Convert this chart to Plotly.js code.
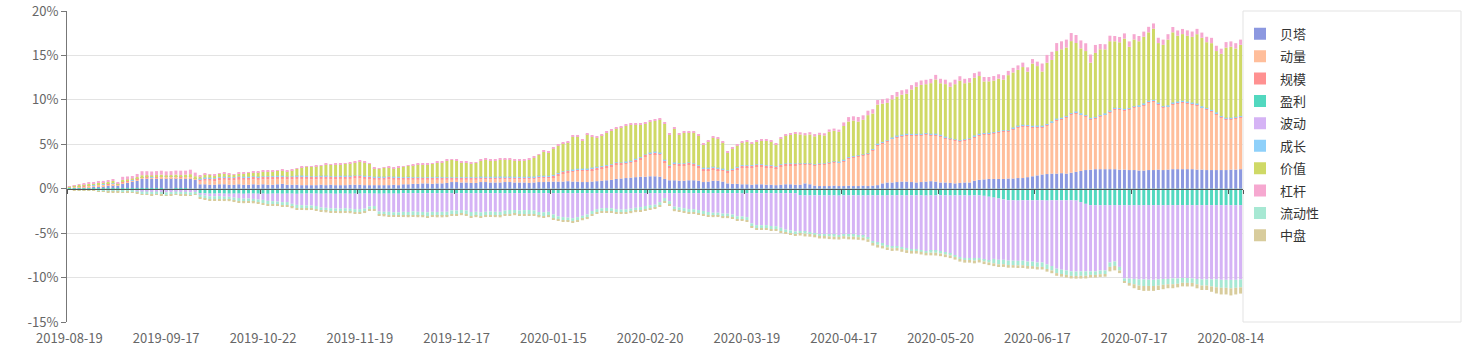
<!DOCTYPE html>
<html>
<head>
<meta charset="utf-8">
<script src="https://cdn.plot.ly/plotly-3.0.1.min.js"></script>
<style>
html,body{margin:0;padding:0;background:#fff;}
#chart{width:1462px;height:357px;}
</style>
</head>
<body>
<div id="chart"></div>
<script>
// ---- categories: trading days starting 2019-08-19 (weekends and exchange holidays skipped)
const startDate = '2019-08-19';
const holidays = ['2019-09-13','2019-10-01','2019-10-02','2019-10-03','2019-10-04','2019-10-07',
  '2020-01-01','2020-01-24','2020-01-27','2020-01-28','2020-01-29','2020-01-30','2020-01-31',
  '2020-04-06','2020-05-01','2020-05-04','2020-05-05','2020-06-25','2020-06-26'];
const labelEvery = 20;

const factorNames = ['贝塔','动量','规模','盈利','波动','成长','价值','杠杆','流动性','中盘'];
const factorColors = ['#8c98e0','#ffbe9b','#ff9191','#52d8bf','#d5b3f5','#8ed0fa','#cfd966','#f6a8d0','#a7e8d3','#d8cc9c'];

// ---- series values (%)
const beta = [
0.05,0.08,0.1,0.15,0.18,0.2,0.25,0.3,0.35,0.4,
0.35,0.6,0.7,0.8,0.9,1.1,1.15,1.1,1.15,1.2,1.15,1.2,1.2,1.15,1.2,1.2,1.0,
0.5,0.5,0.45,0.45,0.5,0.5,0.45,0.45,0.5,0.45,0.45,0.5,0.45,0.5,
0.45,0.45,0.5,0.55,0.45,0.45,0.45,0.4,0.4,0.4,0.4,0.45,0.4,0.45,0.4,0.4,0.4,0.45,0.45,0.45,0.4,0.4,0.4,0.4,0.4,0.4,0.45,0.4,
0.5,0.5,0.55,0.55,0.6,0.6,0.55,0.6,0.6,0.65,0.75,0.75,0.7,0.7,0.65,0.65,0.75,0.75,0.7,0.7,0.7,0.75,0.75,0.7,0.7,0.7,0.65,0.7,0.75,0.75,0.8,
0.8,0.8,0.8,0.85,0.8,0.8,0.75,0.75,0.8,0.85,0.9,0.95,1.0,1.1,1.15,1.2,1.25,1.3,1.35,1.35,1.4,1.4,1.35,
1.1,0.95,0.95,0.9,0.9,0.95,0.95,0.9,0.75,0.8,0.9,0.9,0.8,0.6,0.55,0.55,0.5,0.5,0.45,0.5,0.5,0.45,0.45,0.4,0.45,0.5,0.5,0.45,
0.45,0.6,0.5,0.35,0.3,0.3,0.3,0.35,0.3,0.3,0.35,0.3,0.3,0.35,0.3,0.35,0.4,
0.6,0.7,0.7,0.75,0.8,0.8,0.75,0.7,0.75,0.8,0.85,0.8,0.7,0.7,0.65,0.6,0.65,0.7,0.7,
0.9,1.0,1.05,1.1,1.1,1.1,1.1,1.15,1.15,1.2,1.2,1.3,1.4,1.5,
1.6,1.65,1.7,1.7,1.75,1.7,1.8,1.9,2.0,2.1,
2.15,2.2,2.2,2.2,2.2,2.2,2.15,2.15,2.1,2.1,2.05,2.05,2.1,2.1,2.15,2.1,2.15,2.2,2.2,2.2,2.2,2.2,2.15,2.15,2.1,2.1,2.1,2.1,2.1,2.15,2.15,2.2];

const momentum = [
0.1,0.12,0.15,0.15,0.17,0.17,0.17,0.17,0.17,0.17,
0.12,0.15,0.16,0.15,0.17,0.15,0.14,0.16,0.15,0.15,0.17,0.15,0.16,0.15,0.15,0.16,0.14,
0.3,0.4,0.45,0.4,0.45,0.5,0.5,0.5,0.5,0.55,0.55,0.55,0.55,0.55,
0.6,0.6,0.6,0.55,0.6,0.6,0.65,0.7,0.7,0.65,0.65,0.65,0.7,0.6,0.65,0.7,0.7,0.65,0.7,0.7,0.7,0.65,0.6,0.6,0.6,0.65,0.55,0.6,
0.5,0.5,0.45,0.45,0.4,0.4,0.45,0.4,0.4,0.35,0.25,0.25,0.3,0.3,0.35,0.35,
0.3,0.3,0.35,0.35,0.35,0.3,0.3,0.35,0.35,0.35,0.4,0.35,0.4,0.4,0.35,
0.5,0.7,0.9,0.95,1.1,1.2,1.25,1.25,1.3,1.35,
1.4,1.45,1.5,1.6,1.55,1.6,1.65,1.8,1.95,2.25,
2.4,2.5,2.45,1.9,1.45,1.75,1.7,1.7,1.75,1.65,
1.5,1.35,1.3,1.3,1.2,1.2,1.2,1.45,1.65,1.9,
1.9,1.95,2.0,2.0,1.95,1.95,1.9,2.05,2.1,2.1,
2.15,
2.25,2.1,2.2,2.25,2.4,2.4,2.5,2.55,2.6,2.8,
3.05,3.2,3.3,3.35,3.5,3.95,4.5,4.5,4.6,4.9,
5.05,5.1,5.2,5.25,5.3,5.25,5.3,5.15,5.2,5.2,
5.0,4.85,4.8,4.65,4.7,4.8,4.9,5.0,5.05,5.0,
5.1,5.2,5.3,5.25,5.55,5.7,5.8,5.7,5.5,5.4,
5.3,5.45,5.7,6.0,6.05,6.3,6.5,6.6,6.3,6.0,
5.65,5.7,5.9,6.1,6.4,6.7,6.75,6.65,6.8,7.0,
7.15,7.35,7.6,7.7,7.35,7.0,7.05,7.3,7.4,7.5,
7.4,7.3,7.25,6.95,6.8,6.6,6.3,5.9,5.7,5.65,
5.75,5.8];

const size = [
0.02,0.03,0.03,0.03,0.04,0.03,0.03,0.04,0.03,0.03,0.03,0.04,0.03,0.03,0.04,0.03,0.03,0.03,0.04,0.03,0.03,0.03,0.04,0.03,0.03,0.03,0.03,
0.28,0.3,0.3,0.29,0.3,0.31,0.3,0.3,0.32,0.3,0.3,0.31,0.3,0.3,0.3,0.32,0.3,0.3,0.29,0.3,
0.3,0.31,0.3,0.3,0.32,0.3,0.3,0.3,0.31,0.3,0.3,0.3,0.29,0.3,0.3,0.31,0.3,0.3,0.3,0.29,0.3,0.3,
0.25,0.26,0.25,0.25,0.24,0.25,0.25,0.26,0.25,0.25,0.24,0.25,0.25,0.26,0.25,0.25,0.25,0.24,0.25,0.25,
0.26,0.25,0.25,0.25,0.24,0.25,0.25,0.26,0.25,0.25,0.25,
0.2,0.21,0.2,0.2,0.2,0.19,0.2,0.2,0.21,0.2,0.2,0.2,0.2,0.21,0.2,0.2,0.19,0.2,0.2,0.2,
0.21,0.2,0.2,0.2,0.2,0.19,0.2,0.2,0.21,0.2,0.2,0.2,0.2,0.2,0.21,0.2,0.2,0.19,0.2,0.2,
0.2,0.21,0.2,0.2,0.2,0.2,0.19,0.2,0.2,0.21,0.2,
0.1,0.11,0.1,0.1,0.09,0.1,0.1,0.11,0.1,0.1,0.1,0.1,0.09,0.1,0.11,0.1,0.1,0.1,0.1,0.09,
0.1,0.11,0.1,0.1,0.1,0.1,0.09,0.1,0.11,0.1,0.1,0.1,0.1,0.09,0.1,0.1,0.11,0.1,0.1,0.1,
0.09,0.1,0.11,0.1,0.1,0.1,0.1,0.09,0.1,0.11,0.1,0.1,0.1,0.1,0.09,0.1,0.11,0.1,0.1,0.1,
0.1,0.09,0.1,0.1,0.11,0.1,0.1,0.1,0.09,0.1,0.1,0.11,0.1,0.1,0.1,0.1,0.09,0.1,0.11,0.1,
0.1,0.1,0.1,0.09,0.1,0.1,0.11,0.1,0.1,0.1,0.1,0.1];

const profit = [
-0.05,-0.05,-0.08,-0.08,-0.1,-0.1,-0.12,-0.12,-0.15,-0.15,
-0.15,-0.18,-0.18,-0.2,-0.2,-0.22,-0.22,-0.22,-0.22,-0.22,-0.25,-0.25,-0.22,-0.22,-0.22,-0.25,-0.25,
-0.5,-0.52,-0.55,-0.55,-0.53,-0.55,-0.56,-0.55,-0.55,-0.57,
-0.55,-0.55,-0.56,-0.55,-0.57,-0.55,-0.55,-0.56,-0.55,-0.55,
-0.57,-0.55,-0.55,-0.54,-0.55,-0.56,-0.55,-0.55,-0.57,-0.55,
-0.55,-0.56,-0.55,-0.55,-0.54,-0.55,-0.55,-0.56,-0.55,-0.55,
-0.55,-0.56,
-0.5,-0.52,-0.5,-0.5,-0.51,-0.5,-0.5,-0.52,-0.5,-0.5,
-0.5,-0.51,-0.5,-0.5,-0.52,-0.5,-0.5,-0.5,-0.51,-0.5,
-0.5,-0.52,-0.5,-0.5,-0.5,-0.51,-0.5,-0.5,-0.52,-0.5,
-0.5,-0.5,-0.51,-0.5,-0.5,-0.52,-0.5,-0.5,-0.5,-0.51,
-0.5,-0.5,-0.52,-0.5,-0.5,-0.5,-0.51,-0.5,-0.5,-0.52,
-0.5,-0.5,-0.5,-0.51,-0.5,-0.5,-0.52,-0.5,-0.5,-0.5,
-0.51,-0.5,-0.5,-0.52,-0.5,-0.5,-0.5,-0.51,-0.5,-0.5,
-0.52,-0.5,-0.5,-0.5,-0.51,-0.5,-0.5,-0.52,-0.5,-0.5,
-0.5,-0.51,
-0.72,-0.75,-0.75,-0.74,-0.75,-0.76,-0.75,-0.75,-0.77,-0.75,
-0.75,-0.74,-0.75,-0.76,-0.75,-0.75,-0.75,-0.77,-0.75,-0.75,
-0.74,-0.75,-0.76,-0.75,-0.75,-0.75,-0.77,-0.75,-0.75,-0.74,
-0.75,-0.76,-0.75,-0.75,-0.75,-0.77,-0.75,-0.75,-0.8,-0.9,
-1.0,-1.1,-1.2,-1.3,-1.3,-1.32,-1.3,-1.3,-1.31,-1.3,
-1.3,-1.32,-1.3,-1.3,-1.31,-1.3,-1.3,-1.32,-1.5,-1.7,
-1.85,-1.85,-1.86,-1.85,-1.85,-1.84,-1.85,-1.85,-1.86,-1.85,
-1.85,-1.85,-1.84,-1.85,-1.85,-1.86,-1.85,-1.85,-1.85,-1.84,
-1.85,-1.85,-1.86,-1.85,-1.85,-1.85,-1.84,-1.85,-1.85,-1.86,
-1.85,-1.85];

const volatility = [
-0.02,-0.02,-0.03,-0.03,-0.04,-0.04,-0.06,-0.08,-0.1,-0.1,
-0.08,-0.07,-0.05,-0.05,-0.06,-0.1,-0.1,-0.13,-0.1,-0.13,-0.15,-0.12,-0.1,-0.13,-0.13,-0.15,-0.1,
-0.15,-0.25,-0.3,-0.3,-0.3,-0.35,-0.35,-0.45,-0.5,-0.55,-0.55,-0.6,-0.65,-0.7,
-0.8,-0.85,-0.9,-0.95,-0.95,-1.15,-1.25,-1.3,-1.35,-1.35,
-1.4,-1.55,-1.6,-1.65,-1.65,-1.7,-1.65,-1.7,-1.75,-1.75,
-1.7,-1.45,-1.4,-2.0,-2.05,-2.05,-2.1,-2.1,
-2.1,-2.1,-2.05,-2.1,-2.1,-2.15,-2.1,-2.1,-2.1,-2.1,
-1.95,-1.95,-1.9,-1.95,-2.1,-2.1,-2.15,-2.1,-2.05,-2.1,
-2.1,-1.95,-1.9,-1.9,-1.95,-1.9,-1.9,-1.95,-2.1,-2.15,
-2.1,-2.4,
-2.6,-2.7,-2.75,-2.8,-2.7,-2.55,-2.4,-2.0,-1.8,-1.7,
-1.65,-1.7,-1.8,-1.85,-1.8,-1.75,-1.65,-1.55,-1.45,-1.35,
-1.3,-1.0,-0.55,-0.9,-1.5,-1.6,-1.7,-1.8,-1.8,-1.9,
-2.0,-2.1,-2.2,-2.2,-2.3,-2.3,-2.4,-2.6,-2.6,-2.7,
-3.4,-3.6,-3.6,-3.6,-3.7,-3.7,-3.9,-4.1,-4.2,-4.3,
-4.05,-4.1,-4.15,-4.25,-4.35,-4.35,-4.4,-4.45,-4.45,-4.4,
-4.45,-4.45,-4.5,-4.55,-4.75,-5.15,-5.35,-5.45,-5.65,-5.75,
-5.75,-5.85,-5.95,-6.05,-6.05,-6.15,-6.25,-6.25,-6.25,-6.35,
-6.45,-6.55,-6.75,-6.95,-7.05,-7.05,-7.15,-7.05,-7.2,-7.2,
-6.9,-6.9,-6.8,-6.8,-6.8,-6.8,-6.8,-6.9,-6.9,-7.0,
-7.0,-7.2,-7.4,-7.7,-7.8,-7.9,-8.0,-8.0,-7.8,-7.6,
-7.45,-7.45,-7.35,-7.35,-6.45,-6.35,-6.95,-8.25,-8.25,-8.3,
-8.35,-8.35,-8.4,-8.4,-8.35,-8.3,-8.3,-8.25,-8.25,-8.2,
-8.2,-8.25,-8.3,-8.35,-8.35,-8.35,-8.35,-8.4,-8.4,-8.4,
-8.4,-8.35];

const growth = [
0.01,0.01,0.02,0.02,0.01,0.02,0.02,0.02,0.03,0.02,0.02,0.03,0.02,0.03,0.03,0.02,0.03,0.03,0.02,0.03,0.03,0.03,0.02,0.03,0.03,0.03,0.02,
0.04,0.05,0.04,0.05,0.05,0.04,0.05,0.05,0.06,0.05,0.05,0.04,0.05,0.05,0.06,0.05,0.05,0.05,0.04,0.05,
0.05,0.06,0.05,0.05,0.05,0.04,0.05,0.06,0.05,0.05,0.05,0.05,0.04,0.05,0.05,0.06,0.05,0.05,0.04,0.05,0.05,0.05,
0.05,0.06,0.05,0.05,0.04,0.05,0.05,0.06,0.05,0.05,
0.05,0.04,0.05,0.05,0.06,0.05,0.05,0.05,0.04,0.05,
0.05,0.06,0.05,0.05,0.05,0.04,0.05,0.06,0.05,0.05,
0.05,0.05,0.06,0.06,0.05,0.06,0.06,0.05,0.06,0.06,
0.06,0.05,0.06,0.06,0.06,0.05,0.06,0.06,0.07,0.06,
0.06,0.06,0.07,0.06,0.06,0.05,0.06,0.06,0.06,0.05,
0.06,0.06,0.05,0.06,0.06,0.05,0.05,0.06,0.05,0.05,
0.06,0.05,0.05,0.05,0.06,0.05,0.05,0.05,0.06,0.05,
0.05,0.05,
0.05,0.06,0.05,0.05,0.06,0.05,0.06,0.06,0.05,0.06,
0.06,0.07,0.06,0.06,0.07,0.06,0.07,0.07,0.06,0.07,
0.07,0.07,0.08,0.07,0.07,0.08,0.07,0.08,0.08,0.07,
0.07,0.07,0.06,0.07,0.07,0.07,0.08,0.08,0.07,0.08,
0.08,0.08,0.07,0.08,0.08,0.08,0.09,0.08,0.08,0.09,
0.09,0.08,0.09,0.09,0.1,0.09,0.1,0.1,0.09,0.09,
0.08,0.09,0.09,0.08,0.09,0.09,0.08,0.09,0.08,0.09,
0.09,0.09,0.1,0.1,0.09,0.09,0.09,0.1,0.1,0.1,
0.1,0.09,0.09,0.09,0.09,0.08,0.08,0.08,0.08,0.08,
0.08,0.09];

const value = [
0.07,0.09,0.12,0.17,0.15,0.18,0.22,0.2,0.2,0.25,
0.07,0.17,0.12,0.12,0.17,0.22,0.17,0.17,0.17,0.17,0.12,0.12,0.17,0.17,0.17,0.22,0.22,
0.27,0.37,0.32,0.27,0.37,0.37,0.32,0.27,0.32,0.37,0.42,0.42,0.52,0.52,
0.52,0.57,0.57,0.62,0.57,0.67,0.77,0.97,1.02,1.07,
1.12,1.12,1.27,1.27,1.32,1.32,1.37,1.42,1.47,1.57,
1.52,1.37,0.97,0.87,1.02,1.02,0.97,1.02,
1.15,1.25,1.35,1.45,1.45,1.45,1.5,1.6,1.65,1.85,1.95,1.85,1.7,1.6,1.5,1.6,
1.8,1.95,1.85,1.8,1.9,1.95,1.95,1.8,1.85,1.85,1.9,2.1,2.35,2.7,2.6,
2.98,3.08,3.18,3.18,3.68,3.68,3.18,3.88,3.48,3.28,
3.48,3.63,3.78,3.83,3.98,4.03,4.08,3.88,3.68,3.48,
3.48,3.48,3.73,4.03,3.43,3.78,3.23,3.43,3.38,3.48,
3.28,2.58,2.98,3.28,3.28,2.98,1.98,2.28,2.43,2.58,
2.63,2.43,2.58,2.68,2.73,2.68,2.48,2.88,3.18,3.28,
3.33,
3.25,3.15,3.25,3.15,3.2,3.15,3.45,3.45,3.35,3.8,
4.0,4.0,3.8,3.9,4.3,4.0,4.4,4.3,4.2,4.3,
4.4,4.5,4.5,5.0,5.3,5.5,5.5,5.7,6.1,5.8,
5.9,5.8,6.2,6.7,6.3,6.3,6.5,6.5,5.8,5.8,
5.8,5.9,5.7,6.2,6.2,6.3,6.5,6.0,7.0,6.7,
6.1,6.9,6.9,7.6,7.7,7.7,8.1,7.7,7.3,7.2,
6.2,7.2,7.4,7.2,7.8,7.5,7.4,7.9,6.9,7.5,
7.2,7.5,7.7,8.0,6.7,6.9,7.4,7.9,7.4,7.5,
7.4,7.4,7.8,7.7,7.4,7.5,6.9,7.0,7.9,8.0,
7.7,8.0];

const leverage = [
0.05,0.08,0.1,0.1,0.12,0.12,0.13,0.15,0.15,0.15,
0.15,0.35,0.35,0.3,0.35,0.45,0.45,0.45,0.45,0.45,0.45,0.45,0.45,0.5,0.45,0.5,0.4,
0.07,0.08,0.08,0.09,0.08,0.08,0.07,0.08,0.08,0.09,0.08,0.08,0.07,0.08,0.09,0.08,0.08,0.08,0.07,0.08,
0.09,0.08,0.08,0.07,0.08,0.08,0.09,0.08,0.08,0.08,0.07,0.08,0.09,0.08,0.08,0.08,0.07,0.08,0.08,0.09,0.08,0.08,
0.1,0.09,0.1,0.11,0.1,0.1,0.09,0.1,0.1,0.11,0.1,0.1,0.09,0.1,0.11,0.1,0.1,0.1,0.09,0.1,
0.11,0.1,0.1,0.09,0.1,0.1,0.11,0.1,0.1,0.1,0.1,
0.12,0.11,0.12,0.13,0.12,0.12,0.11,0.12,0.12,0.13,0.12,0.12,0.11,0.12,0.13,0.12,0.12,0.12,0.11,0.12,
0.13,0.12,0.12,0.11,0.12,0.12,0.13,0.12,0.12,0.12,0.11,0.12,0.13,0.12,0.12,0.12,0.11,0.12,0.12,0.13,
0.12,0.12,0.11,0.12,0.13,0.12,0.12,0.12,0.11,0.12,0.12,
0.25,0.24,0.26,0.25,0.25,0.24,0.26,0.25,0.25,0.4,
0.5,0.48,0.52,0.5,0.5,0.49,0.51,0.5,0.5,0.48,0.52,0.5,0.5,0.49,0.51,0.5,0.5,0.48,0.52,0.5,
0.5,0.49,0.51,0.5,0.5,0.48,0.52,0.5,0.5,0.49,0.51,0.5,0.5,0.48,0.52,0.5,0.5,0.49,0.51,0.5,
0.9,0.88,0.92,0.9,0.9,0.89,0.91,0.9,0.9,0.88,0.92,0.9,
0.6,0.58,0.62,0.6,0.6,0.59,0.61,0.6,0.6,0.58,0.62,0.6,0.6,0.59,0.61,0.6,0.6,0.58,0.62,0.6,
0.6,0.59,0.61,0.6,0.6,0.58,0.62,0.6,0.6,0.59];

const liquidity = [
-0.03,-0.05,-0.06,-0.06,-0.07,-0.07,-0.08,-0.1,-0.1,-0.1,
-0.12,-0.15,-0.12,-0.15,-0.18,-0.3,-0.3,-0.32,-0.3,-0.32,-0.32,-0.3,-0.3,-0.32,-0.32,-0.32,-0.28,
-0.33,-0.35,-0.35,-0.36,-0.35,-0.34,-0.35,-0.35,-0.36,-0.35,-0.35,-0.34,-0.35,-0.36,-0.35,-0.35,-0.35,-0.34,-0.36,-0.35,
-0.35,-0.35,-0.36,-0.35,-0.34,-0.35,-0.35,-0.36,-0.35,-0.35,-0.34,-0.35,-0.35,-0.36,-0.35,-0.35,-0.35,-0.34,-0.35,-0.36,-0.35,-0.35,
-0.45,-0.44,-0.45,-0.46,-0.45,-0.45,-0.44,-0.45,-0.46,-0.45,-0.45,-0.45,-0.44,-0.45,-0.46,-0.45,-0.45,-0.45,-0.44,-0.45,
-0.46,-0.45,-0.45,-0.44,-0.45,-0.45,-0.46,-0.45,-0.45,-0.44,-0.45,-0.45,
-0.35,-0.36,-0.35,-0.34,-0.35,-0.35,-0.36,-0.35,-0.35,-0.34,-0.35,-0.36,-0.35,-0.35,-0.34,-0.35,-0.35,-0.36,-0.35,-0.35,
-0.34,-0.35,-0.35,-0.36,-0.35,-0.35,-0.34,-0.35,-0.36,-0.35,-0.35,-0.34,-0.35,-0.35,-0.36,-0.35,-0.35,-0.34,-0.35,-0.35,
-0.36,-0.35,-0.35,-0.34,-0.35,-0.35,-0.36,-0.35,-0.35,-0.35,
-0.2,-0.21,-0.2,-0.19,-0.2,-0.2,-0.21,-0.2,-0.2,-0.19,-0.2,-0.21,-0.2,-0.2,-0.19,-0.2,-0.21,-0.2,-0.2,-0.2,
-0.19,-0.2,-0.21,-0.2,-0.2,-0.2,-0.19,-0.2,-0.21,-0.2,-0.2,-0.2,-0.19,-0.2,-0.21,-0.2,-0.2,-0.2,-0.19,-0.2,
-0.5,-0.51,-0.5,-0.49,-0.5,-0.5,-0.51,-0.5,-0.5,-0.49,-0.5,-0.51,-0.5,-0.5,-0.49,-0.5,-0.51,-0.5,-0.5,-0.5,
-0.4,-0.4,-0.41,-0.4,-0.5,-0.5,-0.4,
-0.3,-0.5,-0.6,-0.7,-0.75,-0.7,-0.7,-0.7,-0.65,-0.6,-0.65,-0.6,-0.55,-0.55,-0.5,-0.6,-0.7,-0.7,-0.8,-0.9,-0.9,-0.9,-0.95,-0.9,-0.9];

const midcap = [
-0.02,-0.03,-0.03,-0.03,-0.04,-0.04,-0.04,-0.05,-0.05,-0.05,
-0.05,-0.05,-0.05,-0.05,-0.06,-0.08,-0.08,-0.08,-0.08,-0.08,-0.08,-0.08,-0.08,-0.08,-0.08,-0.08,-0.07,
-0.14,-0.15,-0.15,-0.16,-0.15,-0.15,-0.14,-0.15,-0.15,-0.16,
-0.15,-0.15,-0.14,-0.15,-0.16,-0.15,-0.15,-0.15,-0.14,-0.15,
-0.16,-0.15,-0.15,-0.14,-0.15,-0.15,-0.16,-0.15,-0.15,-0.15,
-0.14,-0.15,-0.16,-0.15,-0.15,-0.14,-0.15,-0.15,-0.16,-0.15,
-0.15,-0.15,-0.14,-0.15,-0.16,-0.15,-0.15,-0.14,-0.15,-0.15,
-0.16,-0.15,-0.15,-0.15,-0.14,-0.15,-0.16,-0.15,-0.15,-0.14,
-0.15,-0.15,-0.16,-0.15,-0.15,-0.14,-0.15,-0.15,-0.16,-0.15,
-0.15,-0.14,-0.15,-0.15,-0.16,-0.15,-0.15,-0.15,-0.14,-0.15,
-0.16,-0.15,-0.15,-0.14,-0.15,-0.15,-0.16,-0.15,-0.15,-0.15,
-0.14,-0.15,-0.16,-0.15,-0.15,-0.14,-0.15,-0.15,-0.16,-0.15,
-0.15,-0.15,-0.14,-0.15,-0.16,-0.15,-0.15,-0.14,-0.15,-0.15,
-0.16,-0.15,-0.15,-0.15,-0.14,-0.15,-0.16,-0.15,-0.15,-0.14,
-0.15,-0.15,-0.16,-0.15,
-0.3,-0.31,-0.3,-0.29,-0.3,-0.3,-0.31,-0.3,-0.3,-0.29,
-0.3,-0.31,-0.3,-0.3,-0.29,-0.3,-0.31,-0.3,-0.3,-0.3,
-0.29,-0.3,-0.31,-0.3,-0.3,-0.3,-0.29,-0.3,-0.31,-0.3,
-0.3,-0.3,-0.29,-0.3,-0.31,-0.3,-0.3,-0.3,-0.29,-0.3,
-0.31,-0.3,-0.3,-0.3,-0.29,-0.3,-0.31,-0.3,-0.3,-0.3,
-0.29,-0.3,-0.31,-0.3,-0.3,-0.3,-0.29,-0.3,-0.31,-0.3,
-0.3,-0.3,-0.31,-0.3,-0.5,-0.5,-0.3,
-0.2,-0.3,-0.45,-0.5,-0.55,-0.55,-0.55,-0.5,-0.5,-0.45,-0.45,-0.4,-0.4,-0.4,-0.4,-0.45,-0.5,-0.5,-0.6,-0.7,-0.75,-0.75,-0.8,-0.75,-0.7];

const yTickVals = [-15,-10,-5,0,5,10,15,20];
const yTickText = ['-15%','-10%','-5%','0%','5%','10%','15%','20%'];

// ---- build categories
const seriesList = [beta, momentum, size, profit, volatility, growth, value, leverage, liquidity, midcap];
const nBars = beta.length;
seriesList.forEach((s, k) => { if (s.length !== nBars) throw new Error('length mismatch ' + factorNames[k] + ' ' + s.length + ' vs ' + nBars); });

const dates = [];
(function () {
  const hol = new Set(holidays);
  const d = new Date(startDate + 'T00:00:00Z');
  while (dates.length < nBars) {
    const wd = d.getUTCDay();
    const s = d.toISOString().slice(0, 10);
    if (wd !== 0 && wd !== 6 && !hol.has(s)) dates.push(s);
    d.setUTCDate(d.getUTCDate() + 1);
  }
})();
const tickDates = dates.filter((_, i) => i % labelEvery === 0);
const boundaryTicks = [];
for (let i = 0; i <= nBars; i += labelEvery) boundaryTicks.push(i - 0.5);
boundaryTicks.push(nBars - 0.5);

const FONT = '"Microsoft YaHei", "Noto Sans CJK SC", "Noto Sans", sans-serif';

const traces = seriesList.map((s, k) => ({
  type: 'bar',
  name: factorNames[k],
  legendgroup: 'g' + k,
  x: dates,
  y: s,
  marker: { color: factorColors[k], line: { width: 0 } },
  hovertemplate: factorNames[k] + ': %{y:.2f}%<extra>%{x}</extra>'
}));
// invisible carrier for the zero-level axis with its ticks
traces.push({ type: 'scatter', mode: 'markers', x: [0], y: [0], xaxis: 'x2', yaxis: 'y',
  marker: { opacity: 0, size: 1 }, showlegend: false, hoverinfo: 'skip' });

const layout = {
  width: 1462, height: 357,
  margin: { l: 67, r: 219, t: 11, b: 35, pad: 0 },
  paper_bgcolor: '#fff', plot_bgcolor: '#fff',
  font: { family: FONT, size: 13, color: '#666' },
  barmode: 'relative',
  bargap: 0.38,
  showlegend: true,
  legend: {
    x: (1240 - 67) / 1176, xanchor: 'left', y: 0.975, yanchor: 'top',
    font: { family: FONT, size: 13, color: '#333' },
    bgcolor: 'rgba(0,0,0,0)', borderwidth: 0,
    traceorder: 'grouped', tracegroupgap: 2.5,
    itemclick: false, itemdoubleclick: false
  },
  xaxis: {
    type: 'category', range: [-0.5, nBars - 0.5],
    tickmode: 'array', tickvals: tickDates, ticktext: tickDates,
    ticks: 'outside', ticklen: 4, tickcolor: 'rgba(0,0,0,0)',
    showline: false, showgrid: false, zeroline: false,
    tickangle: 0, tickfont: { family: FONT, size: 13, color: '#666' },
    fixedrange: true
  },
  xaxis2: {
    overlaying: 'x', anchor: 'free', position: 15 / 35,
    type: 'linear', range: [-0.5, nBars - 0.5],
    tickmode: 'array', tickvals: boundaryTicks,
    ticks: 'outside', ticklen: 4, tickwidth: 1, tickcolor: '#555',
    showticklabels: false, showline: true, linecolor: '#555', linewidth: 1,
    showgrid: false, zeroline: false, fixedrange: true
  },
  yaxis: {
    range: [-15, 20], tickmode: 'array', tickvals: yTickVals, ticktext: yTickText,
    showline: true, linecolor: '#777', linewidth: 1,
    ticks: 'outside', ticklen: 5, tickcolor: '#777',
    showgrid: true, gridcolor: '#e3e3e3', gridwidth: 1, zeroline: false,
    tickfont: { family: FONT, size: 13, color: '#666' },
    fixedrange: true
  },
  shapes: [{
    type: 'rect', xref: 'paper', yref: 'paper',
    x0: 1, x1: (1461 - 67) / 1176, y0: 0, y1: 1,
    line: { color: '#e3e3e3', width: 1 }, fillcolor: 'rgba(0,0,0,0)', layer: 'below'
  }]
};

Plotly.newPlot('chart', traces, layout, { displayModeBar: false, staticPlot: false });
</script>
</body>
</html>
